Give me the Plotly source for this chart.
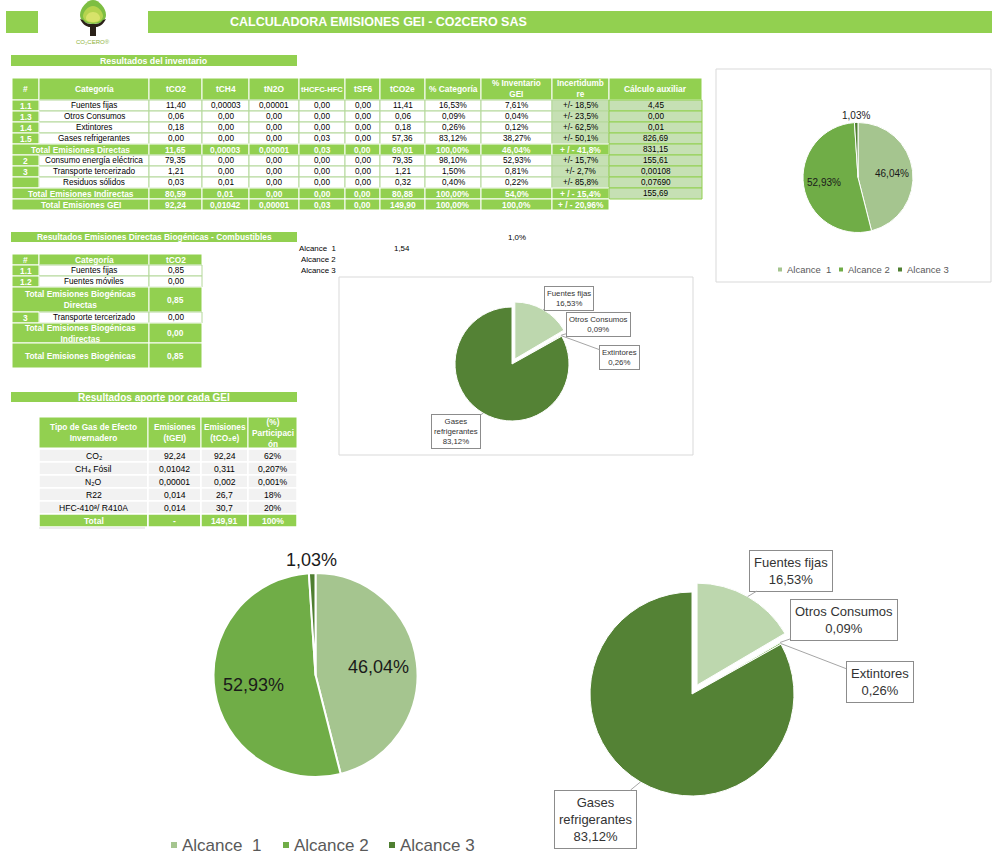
import math
import plotly.graph_objects as go

# ------------------------------------------------------------------ data
title_text = "CALCULADORA EMISIONES GEI - CO2CERO SAS"
logo_text = "CO₂CERO®"

inv_title = "Resultados del inventario"
inv_headers = ["#", "Categoría", "tCO2", "tCH4", "tN2O", "tHCFC-HFC", "tSF6", "tCO2e",
               "% Categoría", "% Inventario<br>GEI", "Incertidumb<br>re", "Cálculo auxiliar"]
inv_codes = ["1.1", "1.3", "1.4", "1.5", "", "2", "3", "", "", ""]
inv_categories = ["Fuentes fijas", "Otros Consumos", "Extintores", "Gases refrigerantes",
                  "Total Emisiones Directas", "Consumo energía eléctrica", "Transporte tercerizado",
                  "Residuos sólidos", "Total Emisiones Indirectas", "Total Emisiones GEI"]
inv_tco2 = ["11,40", "0,06", "0,18", "0,00", "11,65", "79,35", "1,21", "0,03", "80,59", "92,24"]
inv_tch4 = ["0,00003", "0,00", "0,00", "0,00", "0,00003", "0,00", "0,00", "0,01", "0,01", "0,01042"]
inv_tn2o = ["0,00001", "0,00", "0,00", "0,00", "0,00001", "0,00", "0,00", "0,00", "0,00", "0,00001"]
inv_thcfc = ["0,00", "0,00", "0,00", "0,03", "0,03", "0,00", "0,00", "0,00", "0,00", "0,03"]
inv_tsf6 = ["0,00", "0,00", "0,00", "0,00", "0,00", "0,00", "0,00", "0,00", "0,00", "0,00"]
inv_tco2e = ["11,41", "0,06", "0,18", "57,36", "69,01", "79,35", "1,21", "0,32", "80,88", "149,90"]
inv_pct_cat = ["16,53%", "0,09%", "0,26%", "83,12%", "100,00%", "98,10%", "1,50%", "0,40%", "100,00%", "100,00%"]
inv_pct_inv = ["7,61%", "0,04%", "0,12%", "38,27%", "46,04%", "52,93%", "0,81%", "0,22%", "54,0%", "100,0%"]
inv_incert = ["+/- 18,5%", "+/- 23,5%", "+/- 62,5%", "+/- 50,1%", "+ / - 41,8%", "+/- 15,7%",
              "+/- 2,7%", "+/- 85,8%", "+ / - 15,4%", "+ / - 20,96%"]
inv_aux = ["4,45", "0,00", "0,01", "826,69", "831,15", "155,61", "0,00108", "0,07690", "155,69", ""]

bio_title = "Resultados Emisiones Directas Biogénicas - Combustibles"
bio_headers = ["#", "Categoría", "tCO2"]
bio_codes = ["1.1", "1.2", "", "3", "", ""]
bio_categories = ["Fuentes fijas", "Fuentes móviles", "Total Emisiones Biogénicas<br>Directas",
                  "Transporte tercerizado", "Total Emisiones Biogénicas<br>Indirectas",
                  "Total Emisiones Biogénicas"]
bio_tco2 = ["0,85", "0,00", "0,85", "0,00", "0,00", "0,85"]

side_labels = ["Alcance  1", "Alcance 2", "Alcance 3"]
side_value = "1,54"
side_pct = "1,0%"

gei_title = "Resultados aporte por cada GEI"
gei_headers = ["Tipo de Gas de Efecto<br>Invernadero", "Emisiones<br>(tGEI)",
               "Emisiones<br>(tCO₂e)", "(%)<br>Participaci<br>ón"]
gei_gases = ["CO₂", "CH₄ Fósil", "N₂O", "R22", "HFC-410ª/ R410A", "Total"]
gei_tgei = ["92,24", "0,01042", "0,00001", "0,014", "0,014", "-"]
gei_tco2e = ["92,24", "0,311", "0,002", "26,7", "30,7", "149,91"]
gei_pct = ["62%", "0,207%", "0,001%", "18%", "20%", "100%"]

alcance_labels = ["Alcance  1", "Alcance 2", "Alcance 3"]
alcance_pct = [46.04, 52.93, 1.03]

cat_labels = ["Fuentes fijas", "Otros Consumos", "Extintores", "Gases refrigerantes"]
cat_pct = [16.53, 0.09, 0.26, 83.12]

# ------------------------------------------------------------------ style / layout
W, H = 992, 855
FONT = "Liberation Sans, Arial, DejaVu Sans, sans-serif"
GREEN = "#92D050"
LIGHT = "#C6E0B4"
GRID = "#B4D89A"
CELL_GRAY = "#F2F2F2"
FRAME = "#D9D9D9"
alc_colors = ["#A5C58F", "#70AD47", "#4F7F31"]
cat_colors = ["#BDD7AE", "#A9D18E", "#70AD47", "#548235"]
cat_pull = [0.1, 0, 0, 0]

shapes, annots = [], []


def rect(x0, y0, x1, y1, fill, line=None, lw=1):
    shapes.append(dict(type="rect", xref="x", yref="y", x0=x0, y0=y0, x1=x1, y1=y1,
                       fillcolor=fill, layer="below",
                       line=dict(color=line if line else fill, width=lw if line else 0)))


def label(x, y, s, size, color="#000000", bold=False, xanchor="center"):
    if not s:
        return
    annots.append(dict(xref="x", yref="y", x=x, y=y, text=f"<b>{s}</b>" if bold else s,
                       showarrow=False, xanchor=xanchor, yanchor="middle",
                       font=dict(family=FONT, size=size, color=color)))


def nb(s):
    return s.replace("  ", " \u00a0")


def fmt(v):
    return f"{v:.2f}".replace(".", ",") + "%"


def mid_angles(vals):
    tot, cum, out = sum(vals), 0.0, []
    for v in vals:
        out.append((cum + v / 2) / tot * 2 * math.pi)
        cum += v
    return out


fig = go.Figure()
# invisible trace so the pixel-unit cartesian axes exist
fig.add_trace(go.Scatter(x=[0, W], y=[0, H], mode="markers", marker=dict(opacity=0),
                         hoverinfo="skip", showlegend=False))

# ---------------- header
rect(6, 11, 38, 33, GREEN)
rect(148, 11, W, 33, GREEN)
label(378, 22, title_text, 12.5, "white", True)
# logo (tree)
shapes.append(dict(type="path", xref="x", yref="y", layer="below", fillcolor="#7DBE42",
                   line=dict(width=0),
                   path="M93,0 C99,0 106,8 106,15 C106,21 100,24 93,24 C86,24 80,21 80,15 C80,8 87,0 93,0 Z"))
shapes.append(dict(type="path", xref="x", yref="y", layer="below", fillcolor="#B5D44E",
                   line=dict(width=0),
                   path="M93,6 C98,6 103,12 103,16 C103,20 98,23 93,23 C88,23 83,20 83,16 C83,12 88,6 93,6 Z"))
shapes.append(dict(type="path", xref="x", yref="y", layer="below", fillcolor="#D8E36A",
                   line=dict(width=0),
                   path="M93,12 C97,12 100,15 100,18 C100,21 97,22 93,22 C89,22 86,21 86,18 C86,15 89,12 93,12 Z"))
shapes.append(dict(type="path", xref="x", yref="y", layer="below", fillcolor="#2B2118",
                   line=dict(width=0),
                   path="M80,19 C83,25 87,27 90,27 L90,36 L96,36 L96,27 C99,27 103,25 106,19 "
                        "L103,20 C100,24 97,24 93,24 C89,24 86,24 83,20 Z"))
label(93, 42, logo_text, 6, "#8DB33A")

# ---------------- section bars
SEC_X = (11, 297)


def section(y0, y1, s, size):
    rect(SEC_X[0], y0, SEC_X[1], y1, GREEN)
    label((SEC_X[0] + SEC_X[1]) / 2, (y0 + y1) / 2, s, size, "white", True)


section(55, 66, inv_title, 8.8)
section(232, 242, bio_title, 8.4)
section(392, 402, gei_title, 10)

# ---------------- inventory table
T1_X = [12, 39, 149, 202, 249, 299, 345, 380, 425, 481, 552, 609, 702]
T1_HEAD = (78, 100)
T1_RH = 11
hm = (T1_HEAD[0] + T1_HEAD[1]) / 2
for j, h in enumerate(inv_headers):
    x0, x1 = T1_X[j], T1_X[j + 1]
    rect(x0, T1_HEAD[0], x1, T1_HEAD[1], GREEN, "white")
    hs = 8.2 if "<br>" in h else 8.4
    if len(h) > 8 and "<br>" not in h and (x1 - x0) < 50:
        hs = 7.6
    label((x0 + x1) / 2, hm, h, hs, "white", True)

inv_cols = [inv_tco2, inv_tch4, inv_tn2o, inv_thcfc, inv_tsf6, inv_tco2e, inv_pct_cat, inv_pct_inv]
for i, cat in enumerate(inv_categories):
    y0 = T1_HEAD[1] + i * T1_RH
    y1 = y0 + T1_RH
    ym = (y0 + y1) / 2
    total = cat.startswith("Total")
    if total:
        rect(T1_X[0], y0, T1_X[2], y1, GREEN, "white")
        label((T1_X[0] + T1_X[2]) / 2, ym, cat, 8.4, "white", True)
    else:
        rect(T1_X[1], y0, T1_X[2], y1, "white", GRID)
        rect(T1_X[0], y0, T1_X[1], y1, GREEN, "white")
        label((T1_X[0] + T1_X[1]) / 2, ym, inv_codes[i], 8.4, "white", True)
        label((T1_X[1] + T1_X[2]) / 2, ym, cat, 8.2)
    for k, col in enumerate(inv_cols + [inv_incert]):
        j = k + 2
        cx = (T1_X[j] + T1_X[j + 1]) / 2
        if total:
            rect(T1_X[j], y0, T1_X[j + 1], y1, GREEN, "white")
            label(cx, ym, col[i], 8.4, "white", True)
        else:
            fill = LIGHT if col is inv_incert else "white"
            rect(T1_X[j], y0, T1_X[j + 1], y1, fill, GRID)
            label(cx, ym, col[i], 8.2)
    if inv_aux[i]:
        rect(T1_X[11], y0, T1_X[12], y1, LIGHT, GREEN)
        label((T1_X[11] + T1_X[12]) / 2, ym, inv_aux[i], 8.2)

# ---------------- biogenic table
B_X = [12, 39, 149, 202]
B_HEAD = (254, 265)
B_RH = [11, 11, 25, 11, 20, 25]
for j, h in enumerate(bio_headers):
    rect(B_X[j], B_HEAD[0], B_X[j + 1], B_HEAD[1], GREEN, "white")
    label((B_X[j] + B_X[j + 1]) / 2, sum(B_HEAD) / 2, h, 8.4, "white", True)
y0 = B_HEAD[1]
for i, cat in enumerate(bio_categories):
    y1 = y0 + B_RH[i]
    ym = (y0 + y1) / 2
    if cat.startswith("Total"):
        rect(B_X[0], y0, B_X[2], y1, GREEN, "white")
        label((B_X[0] + B_X[2]) / 2, ym, cat, 8.4, "white", True)
        rect(B_X[2], y0, B_X[3], y1, GREEN, "white")
        label((B_X[2] + B_X[3]) / 2, ym, bio_tco2[i], 8.4, "white", True)
    else:
        rect(B_X[1], y0, B_X[2], y1, "white", GRID)
        rect(B_X[2], y0, B_X[3], y1, "white", GRID)
        rect(B_X[0], y0, B_X[1], y1, GREEN, "white")
        label((B_X[0] + B_X[1]) / 2, ym, bio_codes[i], 8.4, "white", True)
        label((B_X[1] + B_X[2]) / 2, ym, cat, 8.2)
        label((B_X[2] + B_X[3]) / 2, ym, bio_tco2[i], 8.2)
    y0 = y1

# side texts
for k, s in enumerate(side_labels):
    label(338, 248 + 11 * k, nb(s), 7.9, xanchor="right")
label(402, 248, side_value, 7.9)
label(517, 237, side_pct, 7.9)

# ---------------- GEI table
G_X = [39, 148, 201, 248, 297]
G_HEAD = (417, 448)
G_RH = 13
for j, h in enumerate(gei_headers):
    rect(G_X[j], G_HEAD[0], G_X[j + 1], G_HEAD[1], GREEN, "white")
    label((G_X[j] + G_X[j + 1]) / 2, sum(G_HEAD) / 2, h, 8.3, "white", True)
gei_cols = [gei_gases, gei_tgei, gei_tco2e, gei_pct]
for i, gas in enumerate(gei_gases):
    y0 = G_HEAD[1] + 1 + i * G_RH
    y1 = y0 + G_RH
    total = gas == "Total"
    for j, col in enumerate(gei_cols):
        rect(G_X[j], y0, G_X[j + 1], y1, GREEN if total else CELL_GRAY, "white", 1.5)
        label((G_X[j] + G_X[j + 1]) / 2, (y0 + y1) / 2, col[i], 8.6,
              "white" if total else "#000000", total)
shapes.append(dict(type="line", xref="x", yref="y", x0=39, x1=145, y0=528, y1=528,
                   line=dict(color=FRAME, width=1), layer="below"))

# ---------------- chart frames
rect(716, 69, W - 1, 282, "white", FRAME)
rect(339, 277, 693, 455, "white", FRAME)


# ---------------- pies
def add_pie(values, labels, colors, cx, cy, r, pull, lw):
    R = r * (1 + max(pull))
    fig.add_trace(go.Pie(values=values, labels=labels, sort=False, direction="clockwise", rotation=0,
                         domain=dict(x=[(cx - R) / W, (cx + R) / W], y=[1 - (cy + R) / H, 1 - (cy - R) / H]),
                         marker=dict(colors=colors, line=dict(color="white", width=lw)),
                         pull=pull, textinfo="none", hoverinfo="skip", showlegend=False))


def alcance_pie(cx, cy, r, lw, size, leg_x, leg_y, sw, leg_size, gap):
    add_pie(alcance_pct, alcance_labels, alc_colors, cx, cy, r, [0, 0, 0], lw)
    for v, a in zip(alcance_pct, mid_angles(alcance_pct)):
        rho = r * (0.62 if v >= 5 else 1.13)
        label(cx + rho * math.sin(a), cy - rho * math.cos(a), fmt(v), size, "#1A1A1A")
    for lx, lab, c in zip(leg_x, alcance_labels, alc_colors):
        rect(lx, leg_y - sw / 2, lx + sw, leg_y + sw / 2, c)
        label(lx + sw + gap, leg_y, nb(lab), leg_size, "#595959", xanchor="left")


def wrap(s):
    return s.replace(" ", "<br>") if len(s) > 15 else s


def categoria_pie(cx, cy, r, lw, boxes, size, pad):
    add_pie(cat_pct, cat_labels, cat_colors, cx, cy, r, cat_pull, lw)
    for lab, v, a, p, (bx, by) in zip(cat_labels, cat_pct, mid_angles(cat_pct), cat_pull, boxes):
        ox, oy = cx + p * r * math.sin(a), cy - p * r * math.cos(a)
        px, py = ox + r * math.sin(a), oy - r * math.cos(a)
        annots.append(dict(xref="x", yref="y", x=px, y=py, axref="x", ayref="y", ax=bx, ay=by,
                           showarrow=True, arrowhead=0, arrowwidth=1, arrowcolor="#A6A6A6",
                           standoff=0, text=wrap(lab) + "<br>" + fmt(v), bgcolor="white",
                           bordercolor="#8C8C8C", borderwidth=1, borderpad=pad,
                           font=dict(family=FONT, size=size, color="#333333")))


alcance_pie(858, 177.5, 55, 1, 10, [778, 839, 898], 269.5, 4, 9.5, 3)
alcance_pie(315.5, 675, 102, 2, 18, [171, 283, 389], 845, 6, 17, 3)
categoria_pie(512, 364, 57, 1, [(569, 298), (598, 324.5), (619.5, 357), (456, 431.5)], 7.8, 2)
categoria_pie(692, 694, 102, 1, [(791, 570.5), (844, 620), (879.5, 681.5), (595, 819)], 13, 4)

fig.update_layout(
    width=W, height=H, margin=dict(l=0, r=0, t=0, b=0),
    paper_bgcolor="white", plot_bgcolor="white",
    xaxis=dict(range=[0, W], visible=False, fixedrange=True),
    yaxis=dict(range=[H, 0], visible=False, fixedrange=True),
    shapes=shapes, annotations=annots, showlegend=False,
    font=dict(family=FONT),
)

fig.write_html("out.html", config={"displayModeBar": False, "staticPlot": True},
               post_script="document.body.style.margin='0';document.body.style.padding='0';"
                           "document.body.style.overflow='hidden';")
